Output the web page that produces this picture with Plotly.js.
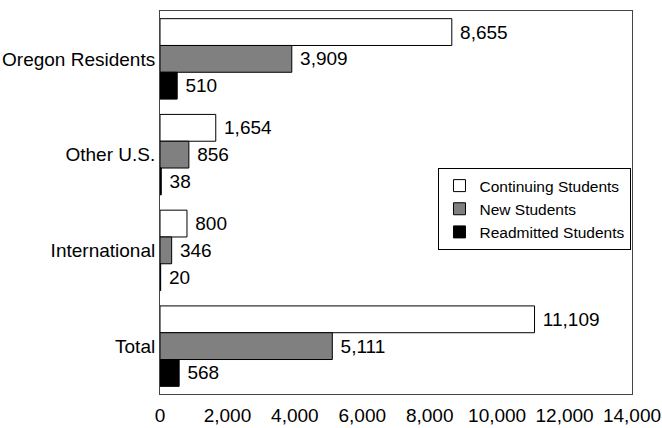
<!DOCTYPE html>
<html>
<head>
<meta charset="utf-8">
<script src="https://cdn.plot.ly/plotly-3.0.1.min.js"></script>
<style>html,body{margin:0;padding:0;background:#fff;}#chart{width:662px;height:428px;}</style>
</head>
<body>
<div id="chart"></div>
<script>
const categories = ["Oregon Residents", "Other U.S.", "International", "Total"];
const continuing = [8655, 1654, 800, 11109];
const newStudents = [3909, 856, 346, 5111];
const readmitted = [510, 38, 20, 568];
const seriesNames = ["Continuing Students", "New Students", "Readmitted Students"];
const xTickVals = [0, 2000, 4000, 6000, 8000, 10000, 12000, 14000];
const xTickText = ["0", "2,000", "4,000", "6,000", "8,000", "10,000", "12,000", "14,000"];

const colors = ["#ffffff", "#808080", "#000000"];
const font = {family: "Liberation Sans, Arial, sans-serif", size: 19, color: "#000"};

function mk(vals, i) {
  return {
    type: "bar", orientation: "h",
    x: vals, y: categories, name: seriesNames[i],
    marker: {color: colors[i], line: {color: "#000", width: 1}},
    text: vals.map(v => "\u00a0" + v.toLocaleString("en-US")),
    textposition: "outside", cliponaxis: false, constraintext: "none",
    textfont: font, hoverinfo: "skip"
  };
}

const data = [mk(continuing, 0), mk(newStudents, 1), mk(readmitted, 2)];

const layout = {
  width: 662, height: 428,
  margin: {l: 160, r: 30, t: 11, b: 34, pad: 0},
  paper_bgcolor: "#fff", plot_bgcolor: "#fff",
  barmode: "group", bargap: 0.16, bargroupgap: 0,
  font: font,
  showlegend: true,
  legend: {
    x: 0.59, y: 0.59, xanchor: "left", yanchor: "top",
    bgcolor: "#fff", bordercolor: "#000", borderwidth: 1,
    font: {family: font.family, size: 15.5, color: "#000"},
    itemwidth: 30, tracegroupgap: 0, traceorder: "normal"
  },
  xaxis: {
    range: [0, 14000], tickvals: xTickVals, ticktext: xTickText,
    showgrid: false, zeroline: false,
    showline: true, mirror: true, linecolor: "#444", linewidth: 1,
    ticks: "outside", ticklen: 4, tickcolor: "rgba(0,0,0,0)",
    tickfont: font, fixedrange: true
  },
  yaxis: {
    type: "category", categoryorder: "array", categoryarray: categories,
    autorange: "reversed",
    showgrid: false, zeroline: false,
    showline: true, mirror: true, linecolor: "#444", linewidth: 1,
    ticks: "", tickfont: font, fixedrange: true
  }
};

Plotly.newPlot("chart", data, layout, {displayModeBar: false, staticPlot: true});
</script>
</body>
</html>
